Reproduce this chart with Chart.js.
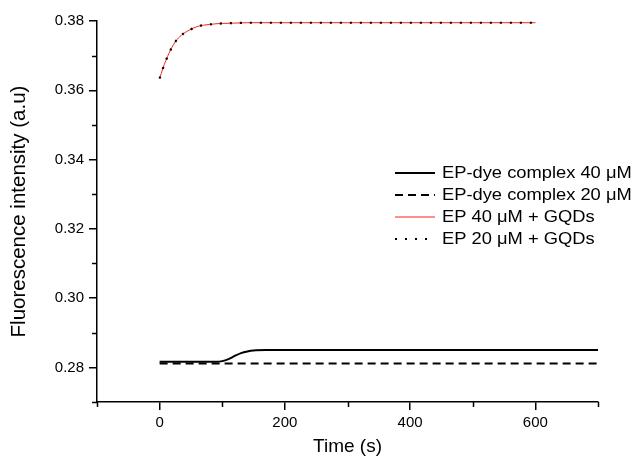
<!DOCTYPE html>
<html>
<head>
<meta charset="utf-8">
<script src="https://cdn.jsdelivr.net/npm/chart.js@4"></script>
<style>
  html, body { margin: 0; padding: 0; background: #fff; }
  #wrap { width: 635px; height: 456px; }
</style>
</head>
<body>
<div id="wrap"><canvas id="c" width="635" height="456"></canvas></div>
<script>
// ---- data ----
const gqdTimes   = [0, 5, 10, 15, 20, 25, 30, 40, 50, 60, 70, 80, 90, 100, 120, 140, 170, 200, 300, 400, 500, 600];
const ep40Gqd    = [0.3634, 0.3662, 0.3686, 0.3707, 0.3725, 0.3740, 0.3751, 0.3766, 0.3776, 0.3784, 0.3788, 0.3790, 0.3792, 0.3793, 0.3794, 0.3795, 0.3795, 0.3795, 0.3795, 0.3795, 0.3795, 0.3795];
const ep20Gqd    = [0.3634, 0.3662, 0.3686, 0.3707, 0.3725, 0.3740, 0.3751, 0.3766, 0.3776, 0.3784, 0.3788, 0.3790, 0.3792, 0.3793, 0.3794, 0.3795, 0.3795, 0.3795, 0.3795, 0.3795, 0.3795, 0.3795];
const dye40Times = [0, 50, 90, 100, 110, 120, 130, 140, 150, 170, 300, 500, 700];
const dye40      = [0.2816, 0.2816, 0.2816, 0.2818, 0.2824, 0.2833, 0.2841, 0.2846, 0.2849, 0.2850, 0.2850, 0.2850, 0.2850];
const dye20Times = [0, 700];
const dye20      = [0.2811, 0.2811];

const seriesLabels = ['EP-dye complex 40 μM', 'EP-dye complex 20 μM', 'EP 40 μM + GQDs', 'EP 20 μM + GQDs'];
const xMajorTicks = [0, 200, 400, 600];
const xMinorTicks = [-100, 100, 300, 500, 700];
const yMajorTicks = [0.28, 0.30, 0.32, 0.34, 0.36, 0.38];
const yMinorTicks = [0.27, 0.29, 0.31, 0.33, 0.35, 0.37];

const pts = (xs, ys) => xs.map((x, i) => ({ x: x, y: ys[i] }));
const FONT = "'Liberation Sans', Arial, sans-serif";

const minorTicksPlugin = {
  id: 'minorTicks',
  afterDraw(chart) {
    const ctx = chart.ctx;
    const xs = chart.scales.x, ys = chart.scales.y;
    ctx.save();
    ctx.strokeStyle = '#000';
    ctx.lineWidth = 1.5;
    ctx.beginPath();
    xMinorTicks.forEach(v => {
      const px = Math.round(xs.getPixelForValue(v)) + 0.5;
      ctx.moveTo(px, xs.top);
      ctx.lineTo(px, xs.top + 5);
    });
    yMinorTicks.forEach(v => {
      const py = Math.round(ys.getPixelForValue(v)) + 0.5;
      ctx.moveTo(ys.right, py);
      ctx.lineTo(ys.right - 5, py);
    });
    ctx.stroke();
    ctx.restore();
  }
};

const legendPlugin = {
  id: 'innerLegend',
  afterDraw(chart, args, opts) {
    const ctx = chart.ctx;
    ctx.save();
    ctx.font = opts.fontSize + 'px ' + FONT;
    ctx.textBaseline = 'middle';
    ctx.fillStyle = '#000';
    chart.data.datasets.forEach((ds, i) => {
      const y = opts.y + i * opts.rowGap;
      ctx.save();
      ctx.strokeStyle = ds.borderColor;
      ctx.lineWidth = ds.borderWidth;
      ctx.setLineDash(ds.borderDash || []);
      ctx.beginPath();
      ctx.moveTo(opts.x, y);
      ctx.lineTo(opts.x + opts.lineLen, y);
      ctx.stroke();
      ctx.restore();
      ctx.save();
      ctx.translate(opts.x + opts.lineLen + 7, y);
      ctx.scale(opts.stretch, 1);
      ctx.fillText(ds.label, 0, 0);
      ctx.restore();
    });
    ctx.restore();
  }
};

new Chart(document.getElementById('c'), {
  type: 'line',
  data: {
    datasets: [
      { label: seriesLabels[0], data: pts(dye40Times, dye40), borderColor: '#000', borderWidth: 2, cubicInterpolationMode: 'monotone', order: 0 },
      { label: seriesLabels[1], data: pts(dye20Times, dye20), borderColor: '#000', borderWidth: 2, borderDash: [8, 5], order: 0 },
      { label: seriesLabels[2], data: pts(gqdTimes, ep40Gqd), borderColor: '#ff2020', borderWidth: 1, cubicInterpolationMode: 'monotone', order: 2 },
      { label: seriesLabels[3], data: pts(gqdTimes, ep20Gqd), borderColor: '#000', borderWidth: 2.2, borderDash: [2, 8], cubicInterpolationMode: 'monotone', order: 1 }
    ]
  },
  options: {
    responsive: false,
    animation: false,
    devicePixelRatio: 1,
    elements: { point: { radius: 0 }, line: { fill: false } },
    layout: { padding: { left: 0, top: 21, right: 37, bottom: 0 } },
    plugins: {
      legend: { display: false },
      tooltip: { enabled: false },
      innerLegend: { x: 395, y: 173, rowGap: 22, lineLen: 40, fontSize: 16.5, stretch: 1.11 }
    },
    scales: {
      x: {
        type: 'linear',
        min: -100, max: 700,
        afterBuildTicks: s => { s.ticks = xMajorTicks.map(v => ({ value: v })); },
        afterFit: s => { s.height = 54; },
        border: { display: true, color: '#000', width: 1.5 },
        grid: { drawOnChartArea: false, drawTicks: true, tickLength: 8, color: '#000', tickColor: '#000', lineWidth: 1.5 },
        ticks: { color: '#000', font: { family: FONT, size: 15 }, padding: 4, maxRotation: 0, callback: v => String(v) },
        title: { display: true, text: 'Time (s)', color: '#000', font: { family: FONT, size: 19, lineHeight: 1 }, padding: { top: 0, bottom: 0 } }
      },
      y: {
        type: 'linear',
        min: 0.27, max: 0.38,
        afterBuildTicks: s => { s.ticks = yMajorTicks.map(v => ({ value: v })); },
        afterFit: s => { s.width = 97; },
        border: { display: true, color: '#000', width: 1.5 },
        grid: { drawOnChartArea: false, drawTicks: true, tickLength: 8, color: '#000', tickColor: '#000', lineWidth: 1.5 },
        ticks: { color: '#000', font: { family: FONT, size: 15 }, padding: 5, callback: v => Number(v).toFixed(2) },
        title: { display: true, text: 'Fluorescence intensity (a.u)', color: '#000', font: { family: FONT, size: 20.5, lineHeight: 1 }, padding: { top: 9, bottom: 0 } }
      }
    }
  },
  plugins: [minorTicksPlugin, legendPlugin]
});
</script>
</body>
</html>
